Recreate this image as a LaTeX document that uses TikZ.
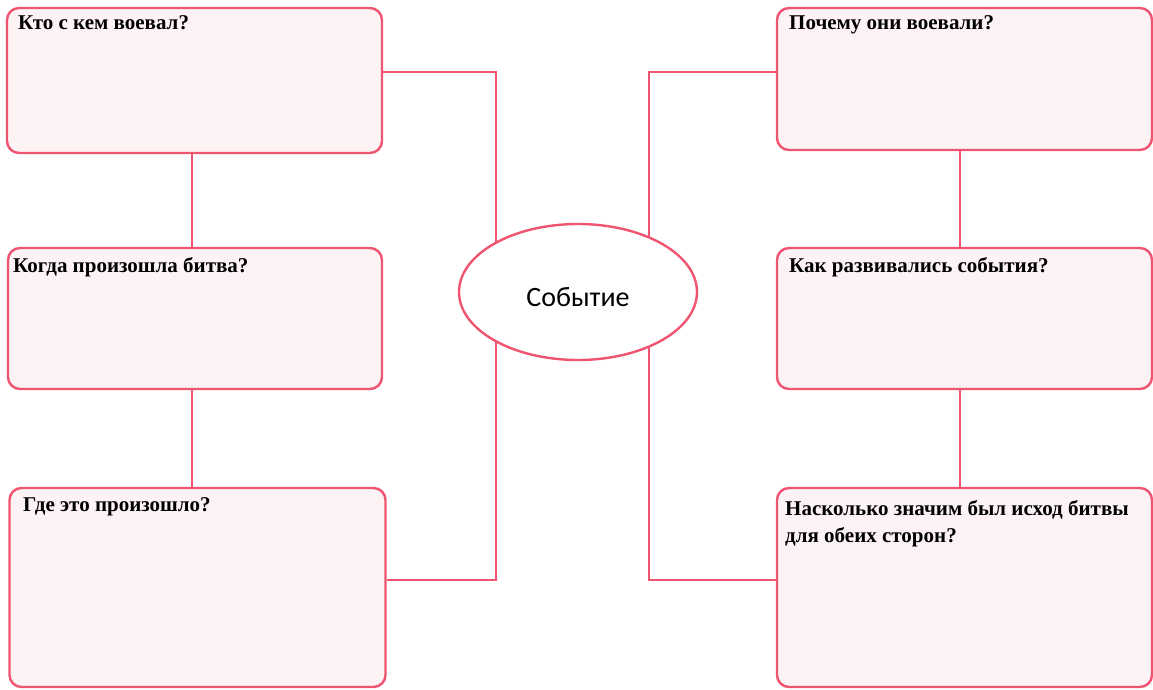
\documentclass[tikz,border=0pt]{standalone}
\usepackage{fontspec}
\setmainfont{Liberation Serif}
\newfontfamily\carl{Carlito}
\usetikzlibrary{shapes.geometric,backgrounds}
\definecolor{edge}{HTML}{EF5570}
\definecolor{boxfill}{HTML}{FDF2F4}
\tikzset{
  qbox/.style={draw=edge, fill=boxfill, line width=2.4pt, rounded corners=12pt, inner sep=0pt},
  link/.style={draw=edge, line width=2pt},
  qtext/.style={anchor=base west, inner sep=0pt, font=\fontsize{21}{27}\selectfont\bfseries, align=left},
}
\begin{document}
\begin{tikzpicture}[x=1pt,y=-1pt]
\useasboundingbox (0,0) rectangle (1153,690);
% boxes
\node[qbox, minimum width=375pt, minimum height=145pt] (b1) at (194.5,80.5) {};
\node[qbox, minimum width=374pt, minimum height=141pt] (b2) at (195,318.5) {};
\node[qbox, minimum width=376pt, minimum height=199pt] (b3) at (197.5,587.5) {};
\node[qbox, minimum width=375pt, minimum height=142pt] (b4) at (964.5,79) {};
\node[qbox, minimum width=375pt, minimum height=141pt] (b5) at (964.5,318.5) {};
\node[qbox, minimum width=375pt, minimum height=199pt] (b6) at (964.5,587.5) {};
% ellipse
\node[ellipse, draw=edge, fill=white, line width=2.4pt, minimum width=238pt, minimum height=136pt, inner sep=0pt] (ev) at (578,292) {};
\node[font=\carl\fontsize{28}{32}\selectfont, inner sep=0pt] (evt) at ([yshift=-5pt]ev.center) {Событие};
% connectors
\begin{scope}[on background layer]
\draw[link] ([yshift=8.5pt]b1.east) -| ([xshift=-82pt]ev.center);
\draw[link] ([yshift=7.5pt]b3.east) -| ([xshift=-82pt]ev.center);
\draw[link] ([yshift=7pt]b4.west) -| ([xshift=71pt]ev.center);
\draw[link] ([yshift=8pt]b6.west) -| ([xshift=71pt]ev.center);
\end{scope}
\draw[link] ([xshift=-2.5pt]b1.south) -- ([xshift=-2.5pt]b1.south |- b2.north);
\draw[link] ([xshift=-3pt]b2.south) -- ([xshift=-3pt]b2.south |- b3.north);
\draw[link] ([xshift=-4.5pt]b4.south) -- ([xshift=-4.5pt]b4.south |- b5.north);
\draw[link] ([xshift=-4.5pt]b5.south) -- ([xshift=-4.5pt]b5.south |- b6.north);
% texts
\node[qtext] (t1) at (18,30) {Кто с кем воевал?};
\node[qtext] (t2) at (13,272) {Когда произошла битва?};
\node[qtext] (t3) at (23,511) {Где это произошло?};
\node[qtext] (t4) at (789,30) {Почему они воевали?};
\node[qtext] (t5) at (789,272) {Как развивались события?};
\node[qtext] (t6) at (785,542) {Насколько значим был исход битвы\\для обеих сторон?};
\end{tikzpicture}
\end{document}
